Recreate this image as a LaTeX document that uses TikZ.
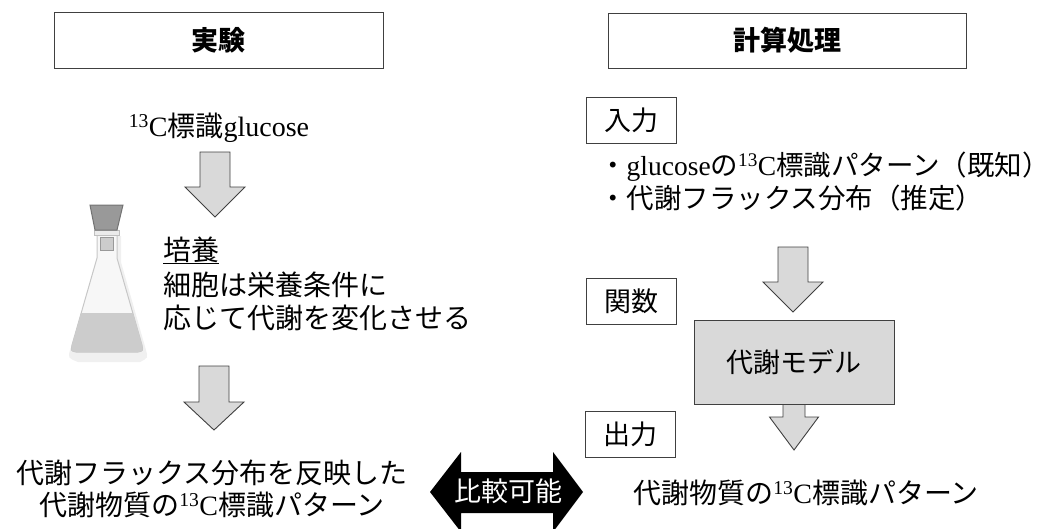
\documentclass[tikz,border=0pt]{standalone}
\usepackage{fontspec}
\setmainfont{Liberation Serif}
\newfontfamily\jp{Noto Sans CJK JP}
\newcommand\ctt{\textsuperscript{13}C}
% downward block arrow: centre x, top, head base, tip, shaft half width, head half width
\newcommand\blockdown[6]{%
  \draw[blk] (#1-#5,#2) -- (#1+#5,#2) -- (#1+#5,#3) -- (#1+#6,#3) -- (#1,#4)
    -- (#1-#6,#3) -- (#1-#5,#3) -- cycle;}
\tikzset{
  blk/.style={fill=black!15, draw=black!75, line width=0.9pt},
  hdr/.style={draw=black!75, line width=1pt, inner sep=0pt,
    font=\jp\bfseries\fontsize{27}{32}\selectfont},
  tagbox/.style={draw=black!75, line width=1pt, inner sep=0pt,
    minimum width=90pt, minimum height=46pt, font=\jp\fontsize{27}{32}\selectfont},
  body/.style={inner sep=0pt, font=\fontsize{28}{34}\selectfont},
}
\begin{document}
\begin{tikzpicture}[x=1pt, y=-1pt]
\useasboundingbox (0,0) rectangle (1048,528);

% column headers
\node[hdr, minimum width=329pt, minimum height=56pt] (exp) at (218.5,40) {実験};
\node[hdr, minimum width=358pt, minimum height=55pt] (calc) at (787,40.5) {計算処理};

% ---- experiment column ----
\node[body] (glc) at (219,128) {\ctt{\jp 標識}glucose};
\blockdown{215}{152}{187}{217}{15}{30}

% flask
\begin{scope}
  \fill[black!6] (103,236) -- (103,262) -- (70,350) .. controls (68,358) .. (78,362)
    -- (140,362) .. controls (148,358) .. (146,350) -- (121,262) -- (121,236) -- cycle;
  \draw[black!22, fill=black!3, line width=1pt] (97,235) -- (97,258) -- (72,345)
    .. controls (71,351) .. (76,352) -- (138,352) .. controls (143,351) .. (142,345)
    -- (117,258) -- (117,235);
  \fill[black!20] (81,313) -- (133,313) -- (142,345) .. controls (143,351) .. (138,352)
    -- (76,352) .. controls (71,351) .. (72,345) -- cycle;
  \draw[black!25, fill=black!8] (94,230) rectangle (119,235);
  \draw[black!40, fill=black!20, line width=1pt] (100,237) rectangle (113,250);
  \draw[black!55, fill=black!40, line width=1pt] (90,205) -- (123,205) -- (117,230)
    -- (95,230) -- cycle;
\end{scope}

\node[body, anchor=west] (cult) at (163,250) {\jp 培養};
\draw[line width=1pt] (163,263) -- (219,263);
\node[body, anchor=west] (cell1) at (163,285) {\jp 細胞は栄養条件に};
\node[body, anchor=west] (cell2) at (163,318) {\jp 応じて代謝を変化させる};

\blockdown{214}{366}{402}{430}{15}{30}

\node[body] (expout1) at (212,473) {\jp 代謝フラックス分布を反映した};
\node[body] (expout2) at (212,505) {{\jp 代謝物質の}\ctt{\jp 標識パターン}};

% ---- comparison ----
\fill[black] (430,492) -- (461,452) -- (461,472) -- (553,472) -- (553,452)
  -- (583,492) -- (553,532) -- (553,513) -- (461,513) -- (461,532) -- cycle;
\node[inner sep=0pt, text=white, font=\jp\fontsize{27}{32}\selectfont] (cmp) at (508,491) {比較可能};

% ---- computation column ----
\node[tagbox] (in) at (631,120.5) {入力};
\node[body, anchor=west, font=\fontsize{27.5}{32}\selectfont] (b1) at (599,167)
  {{\jp ・}glucose{\jp の}\ctt{\jp 標識パターン（既知）}};
\node[body, anchor=west, font=\fontsize{27.5}{32}\selectfont] (b2) at (599,198)
  {\jp ・代謝フラックス分布（推定）};

\blockdown{793}{247}{282}{312}{15}{30}
\node[tagbox] (fn) at (631,301) {関数};

\blockdown{794}{395}{417}{450}{11}{24.5}
\node[draw=black!75, fill=black!15, line width=1pt, minimum width=200pt,
  minimum height=84pt, inner sep=0pt, font=\jp\fontsize{27}{32}\selectfont]
  (model) at (794,362) {代謝モデル};
\node[tagbox] (out) at (630.5,434) {出力};

\node[body] (calcout) at (806,493) {{\jp 代謝物質の}\ctt{\jp 標識パターン}};
\end{tikzpicture}
\end{document}
